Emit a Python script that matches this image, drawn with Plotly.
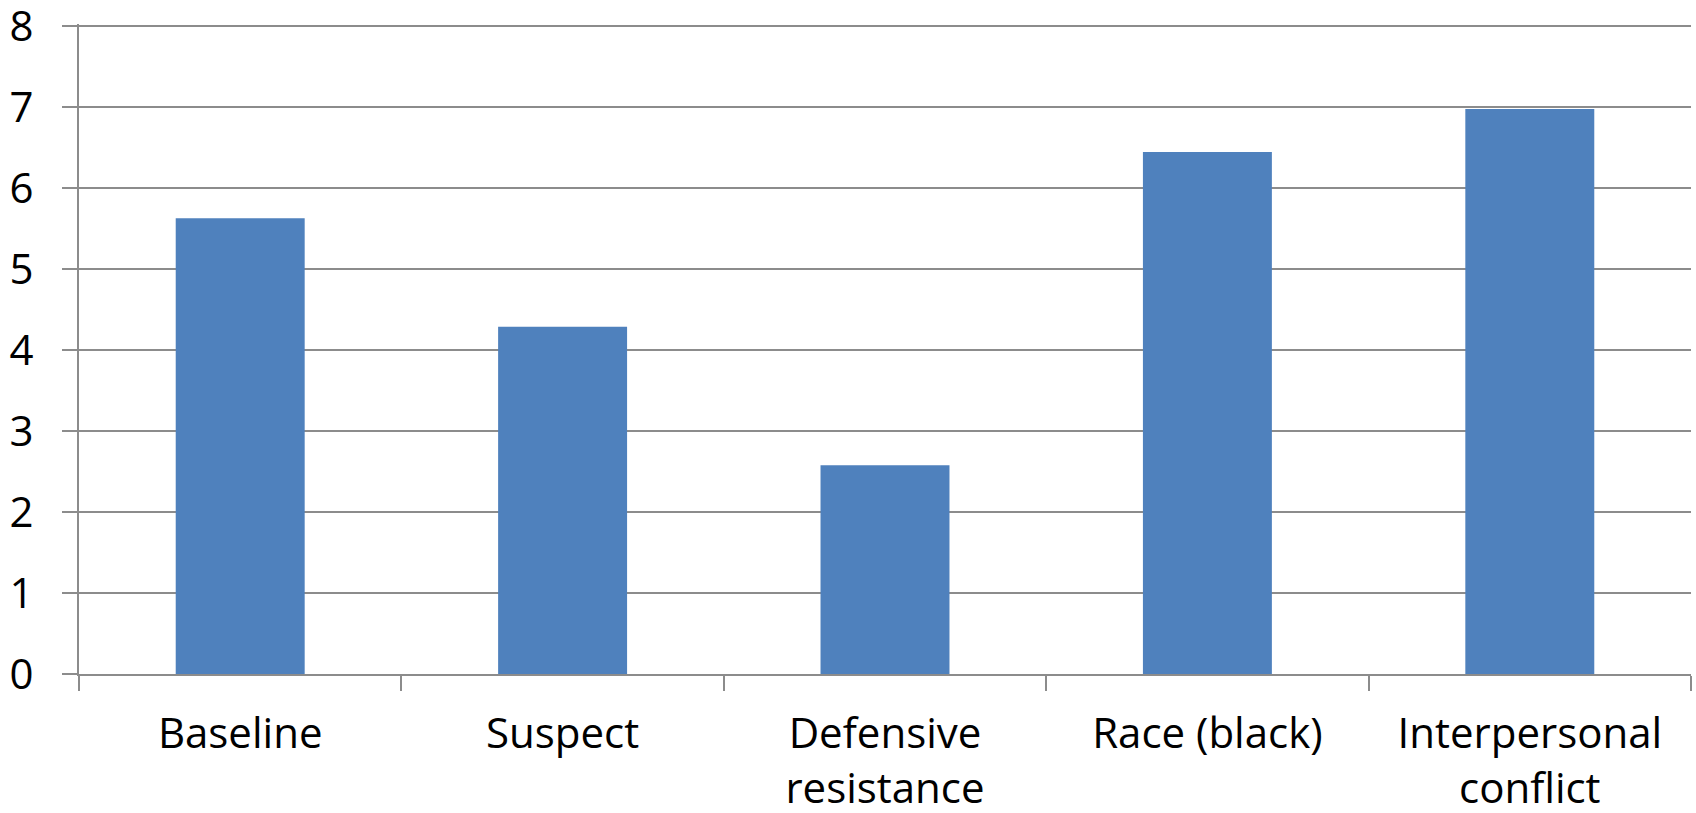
import plotly.graph_objects as go

# Category labels (line-broken as drawn on the axis) and bar heights
categories = ["Baseline", "Suspect", "Defensive<br>resistance", "Race (black)", "Interpersonal<br>conflict"]
values = [5.63, 4.29, 2.58, 6.45, 6.98]
y_ticks = [0, 1, 2, 3, 4, 5, 6, 7, 8]

BAR_COLOR = "#4F81BD"
LINE_COLOR = "#8C8C8C"
FONT = "Open Sans"

fig = go.Figure(
    go.Bar(
        x=categories,
        y=values,
        marker=dict(color=BAR_COLOR, line=dict(width=0)),
        width=0.4,
    )
)

fig.update_layout(
    width=1696,
    height=813,
    margin=dict(l=79, r=5, t=24, b=139, autoexpand=False),
    paper_bgcolor="white",
    plot_bgcolor="white",
    showlegend=False,
    font=dict(family=FONT, size=42, color="black"),
)

fig.update_xaxes(
    type="category",
    automargin=False,
    showline=True,
    linecolor=LINE_COLOR,
    linewidth=2,
    ticks="outside",
    tickson="boundaries",
    ticklen=15,
    tickwidth=2,
    tickcolor=LINE_COLOR,
    showgrid=False,
    tickfont=dict(family=FONT, size=42, color="black"),
    ticklabelstandoff=22,
    ticklabeloverflow="allow",
)

# small headroom above 8 keeps the top gridline from being clipped at the edge
fig.update_yaxes(
    range=[0, 8.03],
    automargin=False,
    tickvals=y_ticks,
    showline=True,
    linecolor=LINE_COLOR,
    linewidth=2,
    showgrid=True,
    gridcolor=LINE_COLOR,
    gridwidth=2,
    zeroline=False,
    ticks="outside",
    ticklen=15,
    tickwidth=2,
    tickcolor=LINE_COLOR,
    tickfont=dict(family=FONT, size=42, color="black"),
    ticklabelstandoff=20,
    ticklabeloverflow="allow",
)

fig.write_html("out.html")
